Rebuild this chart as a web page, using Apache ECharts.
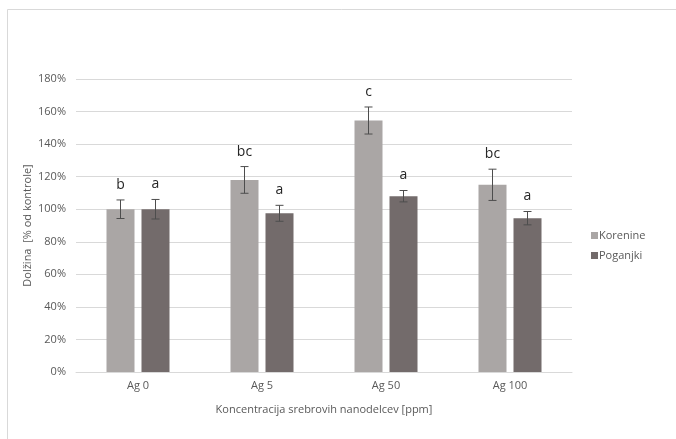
<!DOCTYPE html>
<html>
<head>
<meta charset="utf-8">
<script src="https://cdn.jsdelivr.net/npm/echarts@6/dist/echarts.min.js"></script>
<style>
html, body { margin: 0; padding: 0; background: #fff; }
#main { width: 676px; height: 439px; }
</style>
</head>
<body>
<div id="main"></div>
<script>
// podatki (v % od kontrole)
var categories = ['Ag 0', 'Ag 5', 'Ag 50', 'Ag 100']
var seriesNames = ['Korenine', 'Poganjki']
var korenine = [100, 118, 154.5, 115]
var poganjki = [100, 97.5, 108, 94.5]
var koreninaErr = [5.7, 8.2, 8.3, 9.6]
var poganjkiErr = [6, 4.9, 3.5, 4.1]
var koreninaLetters = ['b', 'bc', 'c', 'bc']
var poganjkiLetters = ['a', 'a', 'a', 'a']

var colors = ['#aaa6a5', '#736b6b']
var barW = 28
var half = 17.5

function errData (vals, errs, letters) {
  return vals.map(function (v, i) {
    return [i, v, errs[i], letters[i]]
  })
}

function errSeries (name, data, offset) {
  return {
    name: name + ' err',
    type: 'custom',
    silent: true,
    z: 5,
    renderItem: function (params, api) {
      var x = api.coord([api.value(0), 0])[0] + offset
      var v = api.value(1)
      var e = api.value(2)
      var top = api.coord([api.value(0), v + e])[1]
      var bot = api.coord([api.value(0), v - e])[1]
      var st = { stroke: '#4d4d4d', lineWidth: 1 }
      return {
        type: 'group',
        children: [
          { type: 'line', shape: { x1: x, y1: top, x2: x, y2: bot }, style: st },
          { type: 'line', shape: { x1: x - 4, y1: top, x2: x + 4, y2: top }, style: st },
          { type: 'line', shape: { x1: x - 4, y1: bot, x2: x + 4, y2: bot }, style: st },
          {
            type: 'text',
            x: x,
            y: top - 8,
            style: {
              text: data[params.dataIndex][3],
              fill: '#262626',
              font: '14px "Open Sans", sans-serif',
              align: 'center',
              verticalAlign: 'bottom'
            }
          }
        ]
      }
    },
    data: data
  }
}

let myChart = echarts.init(document.getElementById('main'))
myChart.setOption({
  backgroundColor: '#fff',
  animation: false,
  textStyle: { fontFamily: '"Open Sans", sans-serif' },
  graphic: [
    { type: 'line', shape: { x1: 7.5, y1: 9.5, x2: 676, y2: 9.5 }, style: { stroke: '#d9d9d9', lineWidth: 1 } },
    { type: 'line', shape: { x1: 7.5, y1: 9.5, x2: 7.5, y2: 439 }, style: { stroke: '#d9d9d9', lineWidth: 1 } }
  ],
  legend: {
    orient: 'vertical',
    left: 586,
    top: 225,
    itemWidth: 7,
    itemHeight: 7,
    itemGap: 9,
    icon: 'rect',
    textStyle: { color: '#595959', fontSize: 11, padding: [0, 0, 0, -4] },
    data: seriesNames
  },
  grid: { left: 76, right: 104, top: 79, bottom: 67 },
  xAxis: {
    type: 'category',
    data: categories,
    name: 'Koncentracija srebrovih nanodelcev [ppm]',
    nameLocation: 'middle',
    nameGap: 32,
    nameMoveOverlap: false,
    nameTextStyle: { color: '#595959', fontSize: 11 },
    axisLine: { lineStyle: { color: '#d9d9d9' } },
    axisTick: { show: false },
    axisLabel: { color: '#595959', fontSize: 11, margin: 8 }
  },
  yAxis: {
    type: 'value',
    min: 0,
    max: 180,
    interval: 20,
    name: 'Dolžina  [% od kontrole]',
    nameLocation: 'middle',
    nameGap: 43,
    nameMoveOverlap: false,
    nameTextStyle: { color: '#595959', fontSize: 11 },
    axisLine: { show: false },
    axisTick: { show: false },
    axisLabel: { color: '#595959', fontSize: 11, formatter: '{value}%', margin: 10 },
    splitLine: { lineStyle: { color: '#d9d9d9' } }
  },
  series: [
    {
      name: seriesNames[0],
      type: 'bar',
      barWidth: barW,
      barGap: '25%',
      itemStyle: { color: colors[0] },
      data: korenine
    },
    {
      name: seriesNames[1],
      type: 'bar',
      barWidth: barW,
      barGap: '25%',
      itemStyle: { color: colors[1] },
      data: poganjki
    },
    errSeries(seriesNames[0], errData(korenine, koreninaErr, koreninaLetters), -half),
    errSeries(seriesNames[1], errData(poganjki, poganjkiErr, poganjkiLetters), half)
  ]
})
window.onresize = myChart.resize
</script>
</body>
</html>
